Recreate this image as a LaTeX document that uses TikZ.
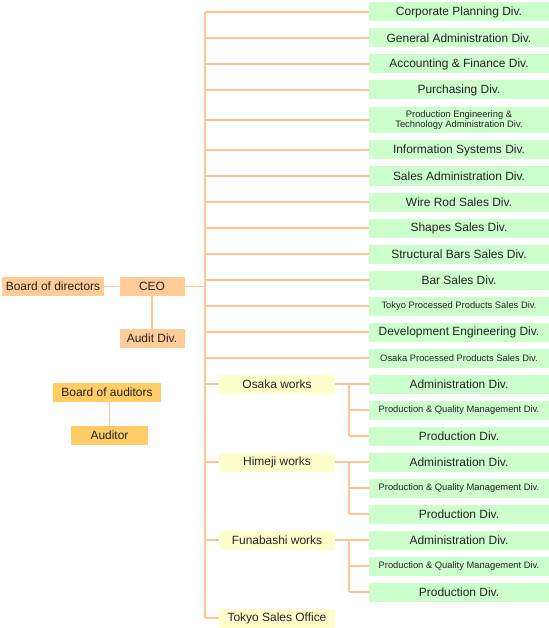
\documentclass[tikz,border=0pt]{standalone}
\usepackage{fontspec}
\setmainfont{Liberation Sans}
\definecolor{lnc}{HTML}{FFC594}
\definecolor{grn}{HTML}{CCFFCC}
\definecolor{ylw}{HTML}{FFFFCC}
\definecolor{pch}{HTML}{FFCC99}
\definecolor{gld}{HTML}{FFCC66}
\definecolor{txt}{HTML}{222222}
\begin{document}
\begin{tikzpicture}[x=1bp,y=-1bp,
  base/.style={inner sep=0pt,minimum height=19bp,text=txt,font=\fontsize{12}{13}\selectfont,align=center},
  gbox/.style={base,fill=grn,minimum width=180bp},
  gsmall/.style={gbox,font=\fontsize{9.4}{10.5}\selectfont},
  wbox/.style={base,fill=ylw,minimum width=116bp},
  obox/.style={base,fill=pch},
  abox/.style={base,fill=gld},
  conn/.style={draw=lnc,line width=1.8bp}]
\useasboundingbox (0,0) rectangle (549,628);
\coordinate (t) at (205,0);
\coordinate (b) at (349,0);
% left side
\node[obox,minimum width=102bp] (bod) at (53,286.5) {Board of directors};
\node[obox,minimum width=65bp] (ceo) at (152,286.5) {CEO};
\node[obox,minimum width=65bp] (aud) at (152,338.5) {Audit Div.};
\node[abox,minimum width=108bp] (boa) at (107,392.5) {Board of auditors};
\node[abox,minimum width=77bp] (adt) at (109.5,435.5) {Auditor};
% green divisions
\node[gbox] (g1) at (459,12) {Corporate Planning Div.};
\node[gbox] (g2) at (459,38) {General Administration Div.};
\node[gbox] (g3) at (459,64) {Accounting \& Finance Div.};
\node[gbox] (g4) at (459,90) {Purchasing Div.};
\node[gsmall,minimum height=26bp] (g5) at (459,120) {Production Engineering \&\\Technology Administration Div.};
\node[gbox] (g6) at (459,150) {Information Systems Div.};
\node[gbox] (g7) at (459,176) {Sales Administration Div.};
\node[gbox] (g8) at (459,202) {Wire Rod Sales Div.};
\node[gbox] (g9) at (459,228) {Shapes Sales Div.};
\node[gbox] (g10) at (459,254) {Structural Bars Sales Div.};
\node[gbox] (g11) at (459,280) {Bar Sales Div.};
\node[gsmall] (g12) at (459,306) {Tokyo Processed Products Sales Div.};
\node[gbox] (g13) at (459,332) {Development Engineering Div.};
\node[gsmall] (g14) at (459,358) {Osaka Processed Products Sales Div.};
% works
\node[wbox] (w1) at (277,384) {Osaka works};
\node[gbox] (w1a) at (459,384) {Administration Div.};
\node[gsmall] (w1b) at (459,410) {Production \& Quality Management Div.};
\node[gbox] (w1c) at (459,436) {Production Div.};
\node[wbox] (w2) at (277,462) {Himeji works};
\node[gbox] (w2a) at (459,462) {Administration Div.};
\node[gsmall] (w2b) at (459,488) {Production \& Quality Management Div.};
\node[gbox] (w2c) at (459,514) {Production Div.};
\node[wbox] (w3) at (277,540) {Funabashi works};
\node[gbox] (w3a) at (459,540) {Administration Div.};
\node[gsmall] (w3b) at (459,566) {Production \& Quality Management Div.};
\node[gbox] (w3c) at (459,592) {Production Div.};
\node[wbox] (w4) at (277,618) {Tokyo Sales Office};
% connectors
\begin{scope}[on background layer/.style={}]
\draw[conn] (bod.east) -- (ceo.west);
\draw[conn] (ceo.south) -- (aud.north);
\draw[conn] (boa.south -| adt.north) -- (adt.north);
\draw[conn] (ceo.east) -- (ceo.east -| t);
\draw[conn] (g1.west -| t) -- (w4.west -| t);
\foreach \n in {g1,g2,g3,g4,g5,g6,g7,g8,g9,g10,g11,g12,g13,g14}
  \draw[conn] (\n.west -| t) -- (\n.west);
\foreach \n in {w1,w2,w3,w4}
  \draw[conn] (\n.west -| t) -- (\n.west);
\foreach \w in {w1,w2,w3}{
  \draw[conn] (\w.east) -- (\w a.west);
  \draw[conn] (\w a.west -| b) -- (\w c.west -| b);
  \draw[conn] (\w b.west -| b) -- (\w b.west);
  \draw[conn] (\w c.west -| b) -- (\w c.west);
}
\end{scope}
\end{tikzpicture}
\end{document}
